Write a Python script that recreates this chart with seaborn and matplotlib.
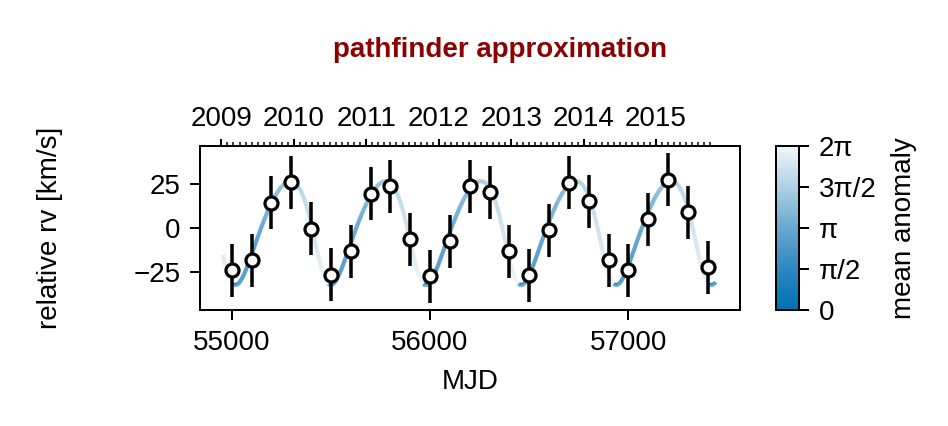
import numpy as np
import pandas as pd
import matplotlib
matplotlib.use("Agg")
import matplotlib.pyplot as plt
from matplotlib.collections import LineCollection
from matplotlib.colors import LinearSegmentedColormap, Normalize
from matplotlib.ticker import FixedLocator, NullFormatter
import seaborn as sns

# ---------------- data ----------------
epoch_mjd = [55000, 55100, 55200, 55300, 55400, 55500, 55600, 55700, 55800,
             55900, 56000, 56100, 56200, 56300, 56400, 56500, 56600, 56700,
             56800, 56900, 57000, 57100, 57200, 57300, 57400]
rv_kms = [-24.2, -18.5, 14.1, 25.8, -0.6, -26.6, -13.4, 19.2, 23.5,
          -6.6, -27.5, -7.7, 23.4, 20.0, -13.4, -27.0, -1.5, 25.6,
          14.9, -18.5, -24.2, 4.7, 27.3, 8.7, -22.5]
rv_err = [15.0] * 25

# orbit model parameters (estimated from the drawn curve)
period_days = 480.0
semi_amp_K = 29.5
eccentricity = 0.16
omega_deg = 130.5
tperi_mjd = 54970.0
# epoch where the colour of the curve wraps from 2π back to 0
colour_zero_mjd = 55007.0
model_start, model_end = 54955.0, 57440.0

year_labels = [2009, 2010, 2011, 2012, 2013, 2014, 2015]
year0_mjd = 54948.0
cbar_ticklabels = ["0", "π/2", "π", "3π/2", "2π"]

# ---------------- styling ----------------
sns.set_theme(style="white")
plt.rcParams["font.family"] = ["Liberation Sans", "DejaVu Sans"]
plt.rcParams["axes.unicode_minus"] = True
for k in ["text.color", "axes.labelcolor", "xtick.color", "ytick.color"]:
    plt.rcParams[k] = "black"
FS = 20
PX = 72 / 100.0  # points per pixel

W, H = 948, 426
fig = plt.figure(figsize=(W / 100, H / 100), dpi=100)
ax_l, ax_r, ax_t, ax_b = 200, 740, 145.7, 310
ax = fig.add_axes([ax_l / W, 1 - ax_b / H, (ax_r - ax_l) / W, (ax_b - ax_t) / H])
cax = fig.add_axes([776 / W, 1 - ax_b / H, 23 / W, (ax_b - ax_t) / H])

# ---------------- model curve ----------------
t = np.linspace(model_start, model_end, 3000)
M = 2 * np.pi * (t - tperi_mjd) / period_days
E = M.copy()
for _ in range(60):
    E = M + eccentricity * np.sin(E)
nu = 2 * np.arctan2(np.sqrt(1 + eccentricity) * np.sin(E / 2),
                    np.sqrt(1 - eccentricity) * np.cos(E / 2))
w = np.deg2rad(omega_deg)
v = semi_amp_K * (np.cos(nu + w) + eccentricity * np.cos(w))
Mcol = np.mod(2 * np.pi * (t - colour_zero_mjd) / period_days, 2 * np.pi)

cmap = LinearSegmentedColormap.from_list(
    "ma", ["#0072b2", "#2d87c0", "#69a8d0", "#afd0e4", "#f2f6fa"])
norm = Normalize(0, 2 * np.pi)
pts = np.column_stack([t, v]).reshape(-1, 1, 2)
segs = np.concatenate([pts[:-1], pts[1:]], axis=1)
lc = LineCollection(segs, cmap=cmap, norm=norm, linewidth=4 * PX, zorder=2,
                    capstyle="butt")
arr = 0.5 * (Mcol[:-1] + Mcol[1:])
jump = np.abs(np.diff(Mcol)) > np.pi
arr[jump] = Mcol[1:][jump]
lc.set_array(arr)
ax.add_collection(lc)

# ---------------- data points ----------------
df = pd.DataFrame({"mjd": epoch_mjd, "rv": rv_kms, "err": rv_err})
ax.errorbar(df["mjd"], df["rv"], yerr=df["err"], fmt="none", ecolor="black",
            elinewidth=3.5 * PX, capsize=0, zorder=3)
sns.scatterplot(data=df, x="mjd", y="rv", ax=ax, marker="o", s=(13 * PX) ** 2,
                facecolor="white", edgecolor="black", linewidth=3.2 * PX, zorder=4,
                legend=False)

ax.set_xlim(54840, 57563)
ax.set_ylim(-46.7, 46.5)
ax.set_xticks([55000, 56000, 57000])
ax.set_xticklabels(["55000", "56000", "57000"])
ax.set_yticks([-25, 0, 25])
ax.set_yticklabels(["−25", "0", "25"])
ax.set_xlabel("")
ax.set_ylabel("")
for s in ax.spines.values():
    s.set_linewidth(2 * PX)
    s.set_color("black")
ax.tick_params(axis="both", which="major", direction="out", length=10 * PX,
               width=2 * PX, color="black", labelsize=FS, pad=7,
               bottom=True, left=True, top=False, right=False)

# top year axis
def mjd2yr(x):
    return 2009 + (np.asarray(x) - year0_mjd) / 365.25

def yr2mjd(y):
    return year0_mjd + (np.asarray(y) - 2009) * 365.25

sec = ax.secondary_xaxis("top", functions=(mjd2yr, yr2mjd))
sec.xaxis.set_major_locator(FixedLocator(year_labels))
sec.set_xticklabels([str(y) for y in year_labels])
minor_months = [2009 + k / 12 for k in range(0, 82) if k % 12 != 0]
sec.xaxis.set_minor_locator(FixedLocator(minor_months))
sec.xaxis.set_minor_formatter(NullFormatter())
sec.spines["top"].set_visible(False)
sec.tick_params(axis="x", which="major", direction="out", length=7 * PX,
                width=2 * PX, labelsize=FS, pad=5, color="black")
sec.tick_params(axis="x", which="minor", direction="out", length=4 * PX,
                width=1.5 * PX, color="black")

# labels
fig.text(470 / W, 1 - 382 / H, "MJD", ha="center", va="center", fontsize=FS)
fig.text(50 / W, 1 - 228 / H, "relative rv [km/s]", ha="center", va="center",
         rotation=90, fontsize=FS)
fig.text(500 / W, 1 - 50 / H, "pathfinder approximation", ha="center",
         va="center", fontsize=FS, fontweight="bold", color="#8b0000")

# colorbar
sm = plt.cm.ScalarMappable(cmap=cmap, norm=norm)
cb = fig.colorbar(sm, cax=cax)
cb.set_ticks([0, np.pi / 2, np.pi, 3 * np.pi / 2, 2 * np.pi])
cb.set_ticklabels(cbar_ticklabels)
cb.outline.set_linewidth(2 * PX)
cb.outline.set_edgecolor("black")
cax.tick_params(direction="out", length=10 * PX, width=2 * PX, labelsize=FS,
                pad=7, color="black")
fig.text(904 / W, 1 - 228 / H, "mean anomaly", ha="center", va="center",
         rotation=90, fontsize=FS)

fig.savefig("out.png", dpi=100, facecolor="white")
